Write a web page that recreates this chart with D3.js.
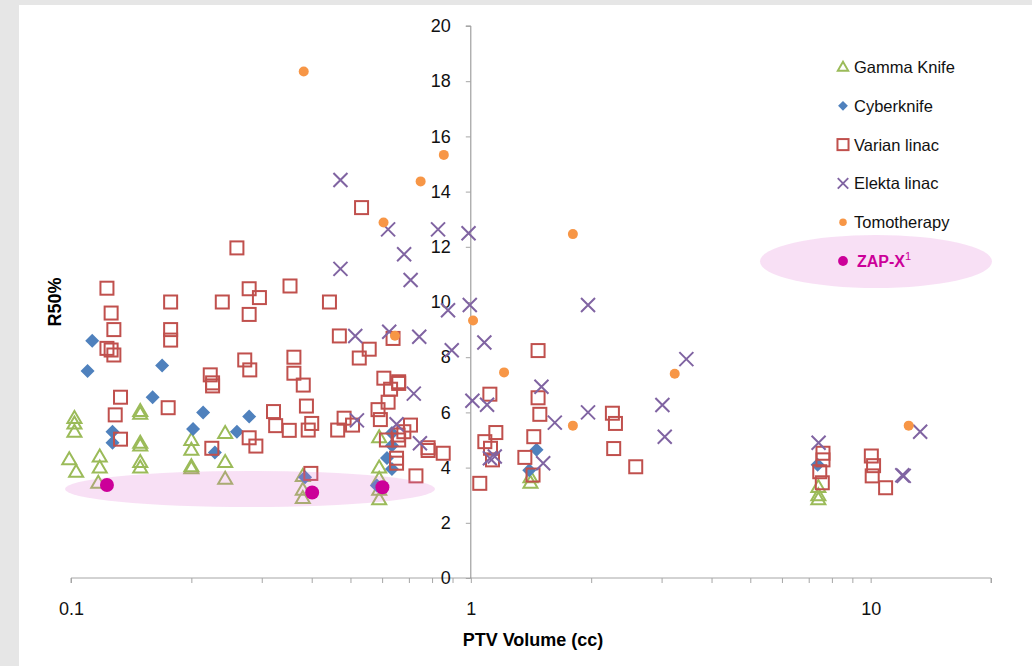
<!DOCTYPE html>
<html><head><meta charset="utf-8">
<script src="https://cdn.jsdelivr.net/npm/d3@7/dist/d3.min.js"></script>
<style>
html,body{margin:0;padding:0;background:#fff;}
svg{display:block;}
text{font-family:"Liberation Sans",Arial,sans-serif;}
</style></head><body>
<svg id="chart" width="1032" height="666"></svg>
<script>
// ---- data ----
const seriesNames = ["Gamma Knife","Cyberknife","Varian linac","Elekta linac","Tomotherapy","ZAP-X"];
const gammaKnife = [[0.102,5.8],[0.102,5.6],[0.102,5.3],[0.099,4.3],[0.103,3.85],[0.118,4.4],[0.118,4.0],[0.117,3.45],
 [0.149,6.05],[0.149,5.95],[0.149,4.9],[0.149,4.8],[0.149,4.2],[0.149,4.0],[0.2,5.0],[0.2,4.65],[0.2,4.05],[0.2,3.98],
 [0.243,5.25],[0.243,4.2],[0.243,3.6],[0.38,3.7],[0.38,3.2],[0.38,2.9],[0.59,5.1],[0.59,4.0],[0.59,3.6],[0.59,3.2],[0.59,2.85],
 [1.41,3.65],[1.41,3.45],[7.4,3.3],[7.4,3.0],[7.4,2.85]];
const cyberknife = [[0.113,8.6],[0.110,7.5],[0.169,7.7],[0.160,6.55],[0.214,6.0],[0.202,5.4],[0.260,5.3],[0.279,5.85],[0.229,4.55],
 [0.127,5.3],[0.127,4.9],[0.385,3.65],[0.635,5.25],[0.635,4.8],[0.617,4.35],[0.635,3.95],[0.582,3.35],[1.46,4.65],[1.40,3.9],[7.37,4.1]];
const varianLinac = [[0.123,10.5],[0.126,9.6],[0.128,9.0],[0.123,8.32],[0.126,8.26],[0.128,8.08],
 [0.1775,10.0],[0.1775,9.0],[0.1775,8.62],[0.239,10.0],[0.26,11.96],
 [0.279,10.48],[0.296,10.16],[0.279,9.55],[0.353,10.58],[0.443,10.0],
 [0.469,8.77],[0.557,8.29],[0.526,7.97],[0.272,7.9],[0.280,7.54],
 [0.361,8.0],[0.361,7.42],[0.381,6.99],[0.388,6.23],[0.321,6.03],[0.325,5.52],[0.3515,5.35],
 [0.279,5.08],[0.290,4.78],[0.392,5.36],[0.400,5.6],[0.4645,5.36],[0.482,5.79],[0.506,5.54],
 [0.606,7.24],[0.66,7.11],[0.66,7.05],[0.63,6.84],[0.621,6.37],[0.586,6.1],[0.594,5.74],
 [0.398,3.79],[0.729,3.7],[0.782,4.72],[0.782,4.62],[0.853,4.52],[1.053,3.43],
 [0.133,6.55],[0.129,5.91],[0.175,6.17],[0.133,5.03],[0.225,4.7],
 [0.223,7.36],[0.226,7.07],[0.226,6.96],
 [0.639,8.68],[0.7065,5.54],[0.68,5.3],[0.658,5.18],[0.615,5.0],[0.652,4.34],[0.652,4.16],[0.66,5.0],
 [0.533,13.42],
 [1.473,8.24],[1.116,6.66],[1.473,6.53],[1.488,5.93],[1.155,5.27],[1.084,4.94],[1.12,4.7],[1.133,4.28],[1.437,5.12],[1.365,4.37],[1.431,3.73],
 [2.26,5.97],[2.30,5.6],[2.277,4.69],[2.585,4.03],
 [7.6,4.52],[7.6,4.28],[7.46,3.85],[7.57,3.45],[10.04,4.42],[10.17,4.07],[10.09,3.7],[10.9,3.27]];
const elektaLinac = [[0.472,14.42],[0.472,11.2],[0.621,12.63],[0.681,11.73],[0.707,10.8],[0.828,12.63],[0.987,12.49],[0.994,9.89],[0.877,9.7],
 [0.514,8.77],[0.625,8.92],[0.743,8.74],[0.896,8.25],[0.72,6.68],[0.519,5.71],[0.652,5.57],[0.746,4.88],[1.009,6.42],[1.081,8.53],
 [1.964,9.89],[3.46,7.93],[1.502,6.93],[1.098,6.28],[1.964,6.0],[1.622,5.63],[3.014,6.27],[3.055,5.12],[1.116,4.34],[1.148,4.4],[1.517,4.16],
 [7.41,4.9],[13.3,5.3],[12.1,3.7],[12.0,3.72]];
const tomotherapy = [[0.382,18.35],[0.856,15.33],[0.749,14.37],[0.605,12.88],[1.80,12.46],[1.013,9.33],[0.646,8.78],[1.211,7.45],[3.236,7.4],[1.80,5.52],[12.45,5.52]];
const zapX = [[0.123,3.37],[0.401,3.1],[0.601,3.29]];
const xTickLabels = [0.1, 1, 10];
const yTicks = [0,2,4,6,8,10,12,14,16,18,20];
const xTitle = "PTV Volume (cc)";
const yTitle = "R50%";

// ---- drawing ----
const svg = d3.select("#chart");
svg.append("rect").attr("width",1032).attr("height",666).attr("fill","#e6e6e6");
svg.append("rect").attr("x",19).attr("y",5).attr("width",1013).attr("height",661).attr("fill","#ffffff");

const x = d3.scaleLog().domain([0.1,20]).range([71,991]);
const y = d3.scaleLinear().domain([0,20]).range([578,26]);
const axisColor = "#a6a6a6";

// x axis
const xAxis = d3.axisBottom(x).tickSize(5).tickPadding(19)
  .tickValues(x.ticks())
  .tickFormat(d => xTickLabels.includes(+d.toPrecision(3)) ? String(+d.toPrecision(3)) : "");
const gx = svg.append("g").attr("transform",`translate(0,${y(0)})`).call(xAxis);
gx.select(".domain").attr("stroke",axisColor).attr("d",`M${x.range()[0]},5V0H${x.range()[1]}V5`);
gx.selectAll(".tick line").attr("stroke",axisColor);
gx.selectAll("text").attr("font-size",18).attr("fill","#111");

// y axis
const yAxis = d3.axisLeft(y).tickValues(yTicks).tickSize(5).tickPadding(15);
const gy = svg.append("g").attr("transform",`translate(${x(1)},0)`).call(yAxis);
gy.select(".domain").attr("stroke","#8c8c8c").attr("d",`M-5,${y(20)}H0V${y(0)}`);
gy.selectAll(".tick line").attr("stroke",axisColor);
gy.selectAll("text").attr("font-size",18).attr("fill","#111");

// titles
svg.append("text").attr("x",533).attr("y",646).attr("text-anchor","middle")
  .attr("font-size",18).attr("font-weight","bold").text(xTitle);
svg.append("text").attr("transform","translate(61,302) rotate(-90)").attr("text-anchor","middle")
  .attr("font-size",18).attr("font-weight","bold").text(yTitle);

// marker shapes
const shapes = {
  tri: (g,s) => g.append("path").attr("d",`M0,${-7*s}L${7*s},${5*s}L${-7*s},${5*s}Z`).attr("fill","none").attr("stroke","#9bbb59").attr("stroke-width",2*Math.min(1,s+0.2)),
  dia: (g,s) => g.append("path").attr("d",`M0,${-7*s}L${7*s},0L0,${7*s}L${-7*s},0Z`).attr("fill","#4f81bd"),
  sq:  (g,s) => g.append("rect").attr("x",-6.5*s).attr("y",-6.5*s).attr("width",13*s).attr("height",13*s).attr("fill","none").attr("stroke","#c0504d").attr("stroke-width",2*Math.min(1,s+0.2)),
  xx:  (g,s) => g.append("path").attr("d",`M${-7*s},${-7*s}L${7*s},${7*s}M${7*s},${-7*s}L${-7*s},${7*s}`).attr("stroke","#8064a2").attr("stroke-width",2*Math.min(1,s+0.2)),
  dot: (g,s) => g.append("circle").attr("r",5*s).attr("fill","#f79646"),
  zap: (g,s) => g.append("circle").attr("r",7*s).attr("fill","#cc0099")
};

function plot(data, shape){
  const g = svg.append("g");
  g.selectAll("g").data(data).join("g")
    .attr("transform", d => `translate(${x(d[0])},${y(d[1])})`)
    .each(function(){ shapes[shape](d3.select(this),1); });
}
plot(gammaKnife,"tri");
plot(cyberknife,"dia");
plot(varianLinac,"sq");
plot(elektaLinac,"xx");
plot(tomotherapy,"dot");

// highlight ellipses (semi-transparent overlay)
const ellFill = "#e070d0", ellOp = 0.22;
svg.append("ellipse").attr("cx",250).attr("cy",489).attr("rx",185).attr("ry",18).attr("fill",ellFill).attr("opacity",ellOp);
plot(zapX,"zap");

// legend
const legendShapes = ["tri","dia","sq","xx","dot","zap"];
const legendScale = [0.75,0.7,0.85,0.75,0.75,0.7];
svg.append("ellipse").attr("cx",876).attr("cy",261.5).attr("rx",116).attr("ry",26.5).attr("fill",ellFill).attr("opacity",ellOp);
seriesNames.forEach((name,i) => {
  const cy = 67 + i*38.8;
  const g = svg.append("g").attr("transform",`translate(843,${cy})`);
  shapes[legendShapes[i]](g, legendScale[i]);
  if (name === "ZAP-X") {
    const t = svg.append("text").attr("x",857).attr("y",cy+6).attr("font-size",16).attr("font-weight","bold").attr("fill","#cc0099");
    t.append("tspan").text(name);
    t.append("tspan").attr("font-size",11).attr("font-weight","normal").attr("dy",-7).text("1");
  } else {
    svg.append("text").attr("x",854).attr("y",cy+6).attr("font-size",16.5).attr("fill","#111").text(name);
  }
});
</script>
</body></html>
